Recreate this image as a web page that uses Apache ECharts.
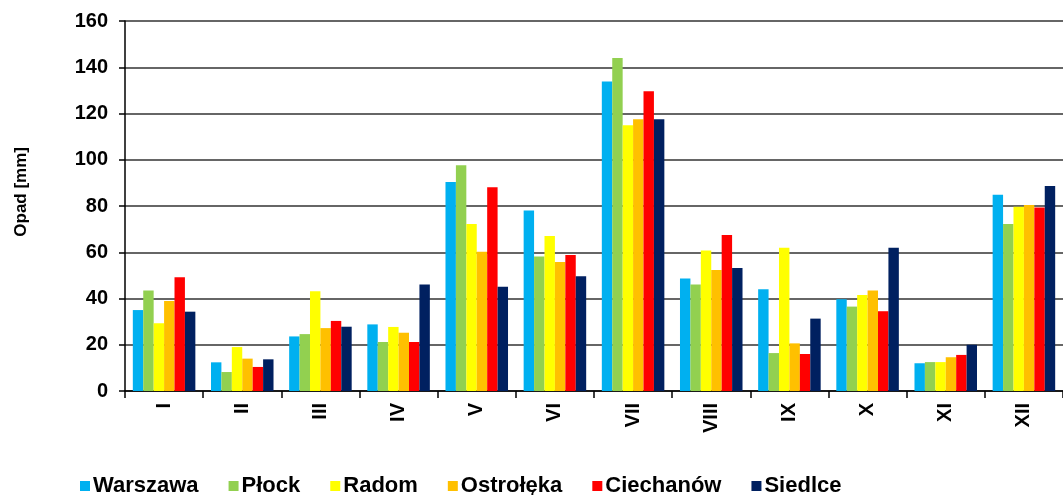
<!DOCTYPE html>
<html>
<head>
<meta charset="utf-8">
<script src="https://cdn.jsdelivr.net/npm/echarts@6/dist/echarts.min.js"></script>
<style>
  html, body { margin: 0; padding: 0; background: #ffffff; }
  #chart { width: 1063px; height: 495px; }
</style>
</head>
<body>
<div id="chart"></div>
<script>
// Monthly precipitation [mm] at six stations
const months = ['I', 'II', 'III', 'IV', 'V', 'VI', 'VII', 'VIII', 'IX', 'X', 'XI', 'XII'];
const stations = ['Warszawa', 'Płock', 'Radom', 'Ostrołęka', 'Ciechanów', 'Siedlce'];

const warszawa  = [35.0, 12.4, 23.6, 28.8, 90.4, 78.1, 133.8, 48.6, 44.0, 39.7, 12.0, 84.9];
const plock     = [43.5,  8.2, 24.6, 21.2, 97.6, 58.2, 144.0, 46.1, 16.4, 36.5, 12.5, 72.2];
const radom     = [29.3, 19.0, 43.1, 27.7, 72.2, 67.0, 114.9, 60.8, 62.0, 41.5, 12.5, 79.7];
const ostroleka = [38.9, 14.0, 27.2, 25.2, 60.2, 55.8, 117.5, 52.3, 20.6, 43.5, 14.6, 80.4];
const ciechanow = [49.2, 10.4, 30.3, 21.2, 88.1, 58.8, 129.6, 67.5, 16.0, 34.5, 15.6, 79.3];
const siedlce   = [34.3, 13.7, 27.8, 46.1, 45.1, 49.6, 117.5, 53.2, 31.3, 62.0, 20.0, 88.6];

const yTicks = [0, 20, 40, 60, 80, 100, 120, 140, 160];

const seriesValues = [warszawa, plock, radom, ostroleka, ciechanow, siedlce];
const colors = ['#00B0F0', '#92D050', '#FFFF00', '#FFC000', '#FF0000', '#002060'];

const FONT = '"Liberation Sans", Arial, sans-serif';

const chart = echarts.init(document.getElementById('chart'), null, { renderer: 'canvas' });

chart.setOption({
  animation: false,
  backgroundColor: '#ffffff',
  color: colors,
  grid: { left: 125, right: -11, top: 21, bottom: 104, containLabel: false },
  legend: {
    data: stations,
    left: 75,
    top: 470,
    itemWidth: 10,
    itemHeight: 10,
    itemGap: 30,
    icon: 'rect',
    textStyle: { fontFamily: FONT, fontWeight: 'bold', fontSize: 22, color: '#000', padding: [0, 0, 0, -2] }
  },
  graphic: [{
    type: 'text',
    left: 13,
    top: 147,
    rotation: Math.PI / 2,
    style: {
      text: 'Opad [mm]',
      font: 'bold 17px ' + FONT,
      fill: '#000'
    }
  }],
  xAxis: {
    type: 'category',
    data: months,
    axisLine: { show: true, lineStyle: { color: '#000', width: 1.5 } },
    axisTick: { show: true, length: 7, lineStyle: { color: '#000', width: 1.5 } },
    axisLabel: {
      rotate: 90,
      margin: 12,
      fontFamily: FONT,
      fontWeight: 'bold',
      fontSize: 20,
      color: '#000'
    },
    splitLine: { show: false }
  },
  yAxis: {
    type: 'value',
    min: yTicks[0],
    max: yTicks[yTicks.length - 1],
    interval: yTicks[1] - yTicks[0],
    axisLine: { show: true, lineStyle: { color: '#000', width: 1.5 } },
    axisTick: { show: true, inside: false, length: 6, lineStyle: { color: '#000', width: 1.5 } },
    axisLabel: {
      margin: 17,
      fontFamily: FONT,
      fontWeight: 'bold',
      fontSize: 20,
      color: '#000'
    },
    splitLine: { show: true, lineStyle: { color: '#666666', width: 2 } }
  },
  series: stations.map((name, i) => ({
    name: name,
    type: 'bar',
    data: seriesValues[i],
    barGap: '0%',
    barCategoryGap: '20%',
    itemStyle: { color: colors[i] }
  }))
});
</script>
</body>
</html>
